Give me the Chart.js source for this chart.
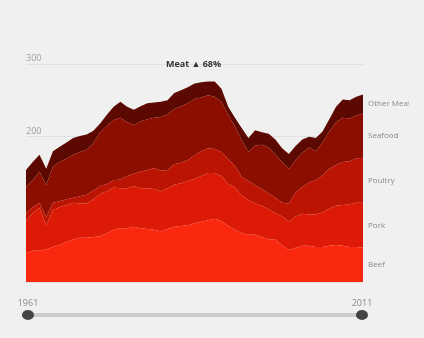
<!DOCTYPE html>
<html>
<head>
<meta charset="utf-8">
<script src="https://cdn.jsdelivr.net/npm/chart.js@4.4.1/dist/chart.umd.min.js"></script>
<style>
  html, body { margin: 0; padding: 0; background: #f0f0f0; }
  #wrap { width: 424px; height: 338px; position: relative; }
</style>
</head>
<body>
<div id="wrap"><canvas id="chart"></canvas></div>
<script>
const years = [1961, 1962, 1963, 1964, 1965, 1966, 1967, 1968, 1969, 1970,
  1971, 1972, 1973, 1974, 1975, 1976, 1977, 1978, 1979, 1980,
  1981, 1982, 1983, 1984, 1985, 1986, 1987, 1988, 1989, 1990,
  1991, 1992, 1993, 1994, 1995, 1996, 1997, 1998, 1999, 2000,
  2001, 2002, 2003, 2004, 2005, 2006, 2007, 2008, 2009, 2010, 2011];

const beef = [40, 43, 43, 45, 48, 51, 55, 59, 61, 61, 62, 63, 67, 72, 74, 74, 76, 74, 73, 72,
  70, 73, 76, 77, 78, 81, 83, 85, 87, 84, 77, 72, 67, 65, 65, 62, 59, 58, 51, 44,
  47, 50, 50, 48, 48, 50, 51, 50, 48, 48, 47];
const pork = [44, 52, 59, 33, 51, 52, 51, 50, 47, 47, 52, 58, 58, 58, 55, 55, 56, 55, 56, 56,
  55, 56, 58, 59, 61, 61, 63, 65, 63, 62, 58, 58, 52, 48, 43, 43, 41, 37, 39, 39,
  43, 44, 43, 45, 48, 51, 54, 56, 59, 61, 62];
const poultry = [11, 8, 7, 11, 10, 8, 8, 7, 10, 12, 12, 11, 10, 10, 12, 17, 17, 23, 25, 29,
  28, 25, 28, 28, 29, 32, 34, 34, 33, 33, 34, 30, 26, 26, 25, 23, 22, 21, 19, 25,
  33, 37, 44, 47, 51, 55, 56, 59, 59, 61, 62];
const seafood = [36, 37, 43, 44, 50, 54, 56, 59, 61, 62, 65, 74, 80, 83, 85, 74, 67, 69, 70, 69,
  74, 77, 76, 78, 78, 78, 74, 73, 72, 69, 61, 54, 50, 40, 55, 61, 63, 59, 56, 47,
  45, 47, 48, 40, 45, 51, 59, 61, 59, 59, 61];
const otherMeat = [23, 25, 23, 23, 21, 21, 22, 23, 22, 21, 17, 12, 15, 18, 22, 21, 21, 21, 22, 21,
  21, 19, 22, 22, 22, 21, 21, 19, 21, 18, 11, 12, 17, 19, 21, 17, 19, 21, 19, 21,
  19, 18, 15, 18, 15, 17, 21, 25, 25, 26, 26];

const seriesNames = ['Beef', 'Pork', 'Poultry', 'Seafood', 'Other Meat'];
const seriesColors = ['#fb2810', '#dd1a06', '#bb1403', '#8c0e00', '#5c0a01'];
const yTicks = [200, 300];
const headline = 'Meat \u25B2 68%';

const seriesData = [beef, pork, poultry, seafood, otherMeat];

// labels, right-hand series names and the year slider
const overlay = {
  id: 'overlay',
  afterDraw(chart) {
    const ctx = chart.ctx;
    const area = chart.chartArea;
    const y = chart.scales.y;
    ctx.save();

    ctx.font = '9px "Open Sans", sans-serif';
    ctx.fillStyle = '#a0a0a0';
    ctx.textAlign = 'left';
    ctx.textBaseline = 'bottom';
    yTicks.forEach(t => ctx.fillText(String(t), area.left, y.getPixelForValue(t) - 1));

    ctx.font = 'bold 9px "Open Sans", sans-serif';
    ctx.fillStyle = '#333';
    ctx.textAlign = 'center';
    ctx.textBaseline = 'middle';
    ctx.fillText(headline, (area.left + area.right) / 2 - 1, y.getPixelForValue(300));

    // series names at the middle of each band on the last year
    const last = years.length - 1;
    let base = 0;
    ctx.font = '8px "Open Sans", sans-serif';
    ctx.fillStyle = '#8a8a8a';
    ctx.textAlign = 'left';
    ctx.beginPath();
    ctx.rect(area.right, 0, 46, chart.height);
    ctx.clip();
    seriesData.forEach((arr, i) => {
      const mid = base + arr[last] / 2;
      base += arr[last];
      ctx.fillText(seriesNames[i], area.right + 5, y.getPixelForValue(mid));
    });
    ctx.restore();

    // slider
    ctx.save();
    const sy = 315;
    const x0 = area.left + 2, x1 = area.right - 1;
    ctx.fillStyle = '#cdcdcd';
    ctx.fillRect(x0, sy - 2, x1 - x0, 4);
    ctx.fillStyle = '#444';
    [x0, x1].forEach(x => {
      ctx.beginPath();
      ctx.ellipse(x, sy, 6, 5, 0, 0, Math.PI * 2);
      ctx.fill();
    });
    ctx.font = '9px "Open Sans", sans-serif';
    ctx.fillStyle = '#8a8a8a';
    ctx.textAlign = 'center';
    ctx.textBaseline = 'middle';
    ctx.fillText(String(years[0]), x0, 303);
    ctx.fillText(String(years[last]), x1, 303);
    ctx.restore();
  }
};

const ctx = document.getElementById('chart').getContext('2d');
new Chart(ctx, {
  type: 'line',
  data: {
    labels: years,
    datasets: seriesData.map((arr, i) => ({
      label: seriesNames[i],
      data: arr,
      backgroundColor: seriesColors[i],
      borderWidth: 0,
      pointRadius: 0,
      fill: i === 0 ? 'origin' : '-1',
      tension: 0
    }))
  },
  options: {
    responsive: true,
    maintainAspectRatio: false,
    animation: false,
    layout: { padding: { left: 26, right: 61, top: 64, bottom: 56 } },
    plugins: { legend: { display: false }, tooltip: { enabled: false } },
    scales: {
      x: { display: false },
      y: {
        stacked: true,
        min: 0,
        max: 300,
        ticks: { display: false, stepSize: 100 },
        grid: { color: '#e0e0e0', drawTicks: false },
        border: { display: false }
      }
    }
  },
  plugins: [overlay]
});
</script>
</body>
</html>
